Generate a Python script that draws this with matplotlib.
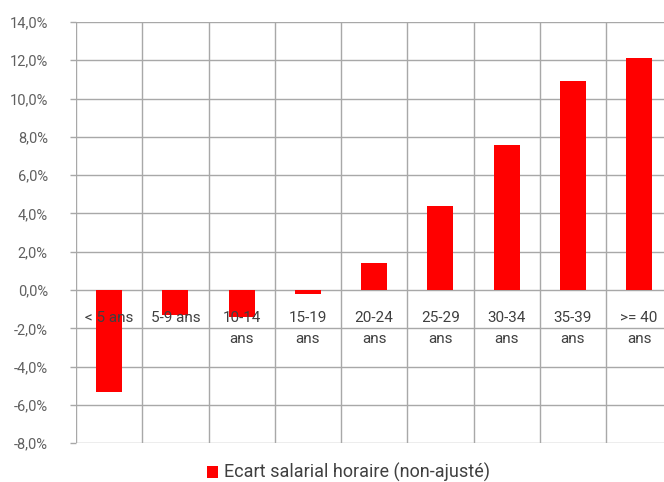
"""Ecart salarial horaire (non-ajusté) par tranche d'ancienneté."""

import matplotlib

matplotlib.use("Agg")

import matplotlib.pyplot as plt
import numpy as np
from matplotlib.patches import Patch
from matplotlib.ticker import FuncFormatter

CATEGORIES = ["< 5 ans", "5-9 ans", "10-14\nans", "15-19\nans", "20-24\nans",
              "25-29\nans", "30-34\nans", "35-39\nans", ">= 40\nans"]
GAP_PCT = [-5.3, -1.3, -1.4, -0.2, 1.4, 4.4, 7.6, 10.9, 12.1]
SERIES_LABEL = "Ecart salarial horaire (non-ajusté)"
Y_TICKS = list(range(-8, 15, 2))

_RED = "#FF0000"
_GRID = "#a8a8a8"
_TEXT = "#404040"

plt.rcParams["font.family"] = ["Roboto", "DejaVu Sans"]

fig = plt.figure(figsize=(6.64, 4.82), dpi=100)
# the right-most column runs slightly past the image edge, as in the source
ax = fig.add_axes([76 / 664, 0.0803, 9 * 66.25 / 664, 0.8741])

positions = np.arange(len(CATEGORIES))
ax.bar(positions, GAP_PCT, width=0.39, color=_RED, zorder=2)

ax.set_xlim(-0.5, len(CATEGORIES) - 0.5)
ax.set_ylim(-8, 14)

# grid: horizontal at every tick, vertical between categories
for y in Y_TICKS:
    ax.axhline(y, color=_GRID, linewidth=1.0, zorder=0)
for x in np.arange(-0.5, len(CATEGORIES), 1.0):
    ax.axvline(x, color=_GRID, linewidth=1.0, zorder=0)

for spine in ax.spines.values():
    spine.set_visible(False)

ax.set_xticks([])
ax.set_yticks(Y_TICKS)
ax.yaxis.set_major_formatter(FuncFormatter(lambda v, _: f"{v:.1f}%".replace(".", ",")))
ax.tick_params(axis="y", length=4.3, width=1.0, color=_GRID, labelsize=10.5,
               labelcolor="#606060", pad=16)

# category labels sit just under the zero line, over the bars
for pos, label in zip(positions, CATEGORIES):
    ax.text(pos, -1.1, label, ha="center", va="top", fontsize=11,
            color=_TEXT, linespacing=1.65, zorder=3)

fig.legend(handles=[Patch(facecolor=_RED, label=SERIES_LABEL)], loc="center",
           bbox_to_anchor=(0.525, 0.019), frameon=False, fontsize=13,
           handlelength=0.6, handleheight=0.6, handletextpad=0.3,
           labelcolor=_TEXT)

fig.savefig("out.png", dpi=100)
